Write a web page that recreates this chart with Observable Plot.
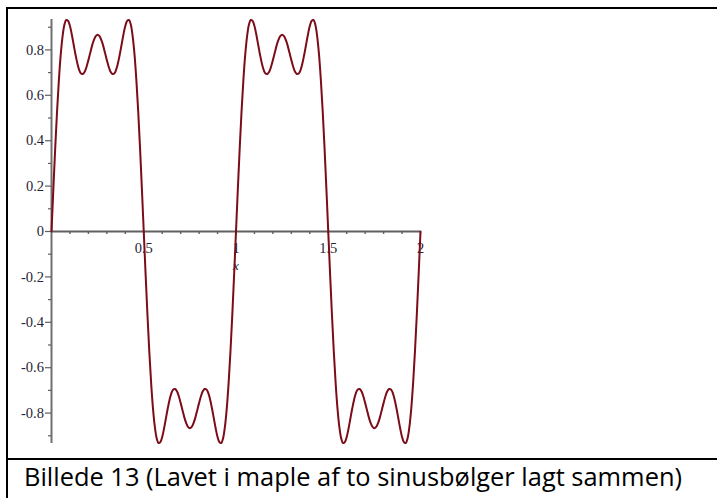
<!DOCTYPE html>
<html><head><meta charset="utf-8">
<script src="https://cdn.jsdelivr.net/npm/d3@7"></script>
<script src="https://cdn.jsdelivr.net/npm/@observablehq/plot@0.6"></script>
<style>
html,body{margin:0;padding:0;background:#fff;width:717px;height:498px;overflow:hidden}
#wrap{position:relative;width:717px;height:498px}
#chart{position:absolute;left:0;top:0}
.bl{position:absolute;background:#000}
#cap{position:absolute;left:24px;top:464px;font-family:"Open Sans";font-size:25px;white-space:nowrap;transform-origin:0 0;color:#000;line-height:1}
</style></head><body>
<div id="wrap"><div id="chart"></div>
<div class="bl" style="left:6px;top:7px;width:2px;height:491px"></div>
<div class="bl" style="left:6px;top:7px;width:711px;height:2px"></div>
<div class="bl" style="left:6px;top:458px;width:711px;height:2px"></div>
<div id="cap">Billede 13 (Lavet i maple af to sinusbølger lagt sammen)</div>
</div>
<script>
// sampled curve values, x = 0, 0.01, ..., 2.00
const yValues = [
 0, 0.187, 0.366, 0.528, 0.667, 0.779, 0.860, 0.911, 0.932, 0.928, 0.905, 0.868, 0.824, 0.780, 0.741, 0.712, 0.696, 0.694, 0.704, 0.726, 0.755, 0.787, 0.819, 0.844, 0.861, 0.867, 0.861, 0.844, 0.819, 0.787, 0.755, 0.726, 0.704, 0.694, 0.696, 0.712, 0.741, 0.780, 0.824, 0.868, 0.905, 0.928, 0.932, 0.911, 0.860, 0.779, 0.667, 0.528, 0.366, 0.187, 0,
 -0.187, -0.366, -0.528, -0.667, -0.779, -0.860, -0.911, -0.932, -0.928, -0.905, -0.868, -0.824, -0.780, -0.741, -0.712, -0.696, -0.694, -0.704, -0.726, -0.755, -0.787, -0.819, -0.844, -0.861, -0.867, -0.861, -0.844, -0.819, -0.787, -0.755, -0.726, -0.704, -0.694, -0.696, -0.712, -0.741, -0.780, -0.824, -0.868, -0.905, -0.928, -0.932, -0.911, -0.860, -0.779, -0.667, -0.528, -0.366, -0.187, 0,
 0.187, 0.366, 0.528, 0.667, 0.779, 0.860, 0.911, 0.932, 0.928, 0.905, 0.868, 0.824, 0.780, 0.741, 0.712, 0.696, 0.694, 0.704, 0.726, 0.755, 0.787, 0.819, 0.844, 0.861, 0.867, 0.861, 0.844, 0.819, 0.787, 0.755, 0.726, 0.704, 0.694, 0.696, 0.712, 0.741, 0.780, 0.824, 0.868, 0.905, 0.928, 0.932, 0.911, 0.860, 0.779, 0.667, 0.528, 0.366, 0.187, 0,
 -0.187, -0.366, -0.528, -0.667, -0.779, -0.860, -0.911, -0.932, -0.928, -0.905, -0.868, -0.824, -0.780, -0.741, -0.712, -0.696, -0.694, -0.704, -0.726, -0.755, -0.787, -0.819, -0.844, -0.861, -0.867, -0.861, -0.844, -0.819, -0.787, -0.755, -0.726, -0.704, -0.694, -0.696, -0.712, -0.741, -0.780, -0.824, -0.868, -0.905, -0.928, -0.932, -0.911, -0.860, -0.779, -0.667, -0.528, -0.366, -0.187, 0
];
const xValues = d3.range(yValues.length).map(i => i / 100);

const xLabelValues = [0.5, 1, 1.5, 2];
const xLabelText = ["0.5", "1", "1.5", "2"];
const xMinorTicks = [0.1,0.2,0.3,0.4,0.5,0.6,0.7,0.8,0.9,1.0,1.1,1.2,1.3,1.4,1.5,1.6,1.7,1.8,1.9,2.0];
const yMajorTicks = [-0.8, -0.6, -0.4, -0.2, 0, 0.2, 0.4, 0.6, 0.8];
const yMajorText = ["-0.8", "-0.6", "-0.4", "-0.2", "0", "0.2", "0.4", "0.6", "0.8"];
const yMinorTicks = [-0.9, -0.7, -0.5, -0.3, -0.1, 0.1, 0.3, 0.5, 0.7, 0.9];
const xAxisTitle = ["x"];
const xAxisTitleAt = [1];

const data = yValues.map((y, i) => ({x: xValues[i], y}));
const axisColor = "#606060";
const labelColor = "#1f2535";

const chart = Plot.plot({
  width: 717, height: 458,
  marginLeft: 51, marginRight: 297, marginTop: 19, marginBottom: 15,
  x: {domain: [0, 2], axis: null, label: null},
  y: {domain: [-0.934, 0.934], axis: null, label: null},
  style: {fontFamily: "'Liberation Serif', serif", fontSize: "14.5px", background: "transparent", color: labelColor},
  marks: [
    Plot.ruleY([0], {stroke: axisColor, strokeWidth: 1.8}),
    Plot.ruleX(xMinorTicks, {x: d => d, y1: 0, y2: 0, insetBottom: -3, stroke: axisColor, strokeWidth: 1.4}),
    Plot.ruleX([0], {stroke: "#707070", strokeWidth: 2}),
    Plot.ruleY(yMajorTicks, {y: d => d, x1: 0, x2: 0, insetLeft: -6, stroke: axisColor, strokeWidth: 1.2}),
    Plot.ruleY(yMinorTicks, {y: d => d, x1: 0, x2: 0, insetLeft: -3, stroke: axisColor, strokeWidth: 1.2}),
    Plot.text(yMajorTicks, {x: 0, y: d => d, text: (d, i) => yMajorText[i], textAnchor: "end", dx: -7.5, fill: labelColor}),
    Plot.text(xLabelValues, {x: d => d, y: 0, text: (d, i) => xLabelText[i], dy: 17, fill: labelColor}),
    Plot.text(xAxisTitle, {x: (d, i) => xAxisTitleAt[i], y: 0, text: d => d, dy: 34, fontStyle: "italic", fontSize: 13, fill: labelColor}),
    Plot.line(data, {x: "x", y: "y", stroke: "#7c0c18", strokeWidth: 2, curve: "catmull-rom"})
  ]
});
document.getElementById("chart").appendChild(chart);

const cap = document.getElementById("cap");
const w = cap.getBoundingClientRect().width;
cap.style.transform = `scaleX(${658 / w})`;
</script>
</body></html>
